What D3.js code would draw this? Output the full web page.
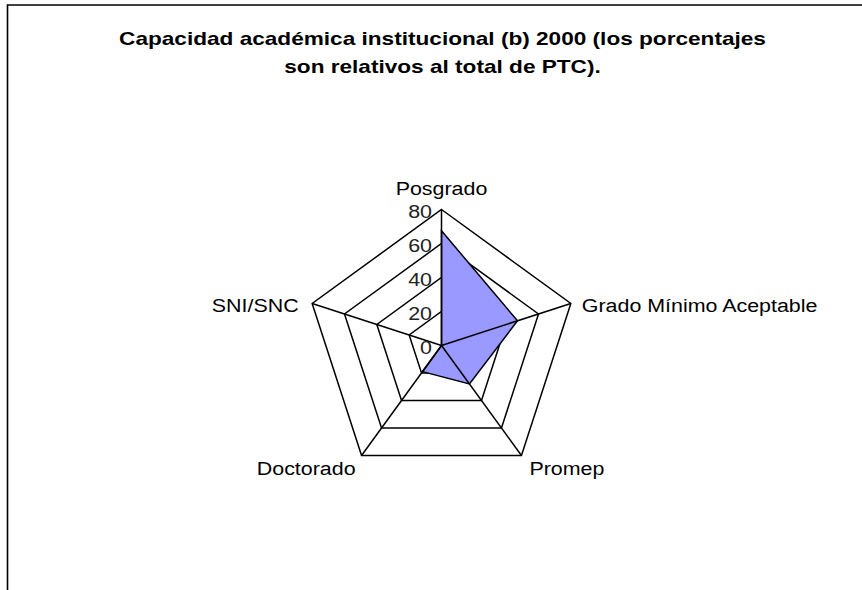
<!DOCTYPE html>
<html>
<head>
<meta charset="utf-8">
<script src="https://cdn.jsdelivr.net/npm/d3@7"></script>
<style>
  body { margin: 0; background: #fff; }
  svg { display: block; font-family: "Liberation Sans", Arial, sans-serif; }
</style>
</head>
<body>
<svg id="chart" width="862" height="590"></svg>
<script>
// datos del grafico
var categories = ["Posgrado", "Grado Mínimo Aceptable", "Promep", "Doctorado", "SNI/SNC"];
var values = [67.5, 47, 28, 19, 0];
var ticks = [0, 20, 40, 60, 80];
var titleLines = ["Capacidad académica institucional (b) 2000 (los porcentajes", "son relativos al total de PTC)."];

var svg = d3.select("#chart");
var cx = 441.5, cy = 345.5;
var stretch = 1.19; // el texto original aparece ensanchado

// marco (solo borde izquierdo y superior visibles)
svg.append("path")
    .attr("d", "M7.5,590V5H862")
    .attr("fill", "none")
    .attr("stroke", "black")
    .attr("stroke-width", 1.6);

// titulo
svg.selectAll("text.title").data(titleLines).enter()
    .append("text")
    .attr("class", "title")
    .attr("transform", function(d, i) {
        return "translate(442.5," + (45 + i * 28) + ") scale(" + stretch + ",1)";
    })
    .attr("text-anchor", "middle")
    .attr("font-weight", "bold")
    .attr("font-size", 19)
    .text(function(d) { return d; });

var r = d3.scaleLinear().domain([0, 80]).range([0, 136]);
var angle = d3.scaleLinear().domain([0, categories.length]).range([0, 2 * Math.PI]);

function pt(i, v) {
    var a = angle(i);
    return [cx + r(v) * Math.sin(a), cy - r(v) * Math.cos(a)];
}

var g = svg.append("g");

// rejilla
g.selectAll("path.grid").data(ticks.slice(1)).enter()
    .append("path")
    .attr("class", "grid")
    .attr("d", function(t) {
        return "M" + categories.map(function(c, i) { return pt(i, t).join(","); }).join("L") + "Z";
    })
    .attr("fill", "none")
    .attr("stroke", "black")
    .attr("stroke-width", 1.5);

// serie
g.append("path")
    .attr("d", function() {
        return "M" + values.map(function(v, i) { return pt(i, v).join(","); }).join("L") + "Z";
    })
    .attr("fill", "#9999ff")
    .attr("stroke", "black")
    .attr("stroke-width", 1.5);

// ejes
g.selectAll("line.axis").data(categories).enter()
    .append("line")
    .attr("x1", cx).attr("y1", cy)
    .attr("x2", function(d, i) { return pt(i, 80)[0]; })
    .attr("y2", function(d, i) { return pt(i, 80)[1]; })
    .attr("stroke", "black")
    .attr("stroke-width", 1.5);

// etiquetas de escala
g.selectAll("text.tick").data(ticks).enter()
    .append("text")
    .attr("transform", function(t) {
        return "translate(" + (cx - 9.5) + "," + (cy - r(t) + 8.5) + ") scale(" + stretch + ",1)";
    })
    .attr("text-anchor", "end")
    .attr("font-size", 18)
    .attr("fill", "#222")
    .text(function(t) { return t; });

// etiquetas de categorias
var labelPos = [
    { dx: 0, dy: -15, anchor: "middle" },
    { dx: 11, dy: 9, anchor: "start" },
    { dx: 8, dy: 19, anchor: "start" },
    { dx: -6, dy: 19, anchor: "end" },
    { dx: -13.5, dy: 9, anchor: "end" }
];
g.selectAll("text.cat").data(categories).enter()
    .append("text")
    .attr("transform", function(d, i) {
        var p = pt(i, 80);
        return "translate(" + (p[0] + labelPos[i].dx) + "," + (p[1] + labelPos[i].dy) + ") scale(" + stretch + ",1)";
    })
    .attr("text-anchor", function(d, i) { return labelPos[i].anchor; })
    .attr("font-size", 18)
    .text(function(d) { return d; });
</script>
</body>
</html>
